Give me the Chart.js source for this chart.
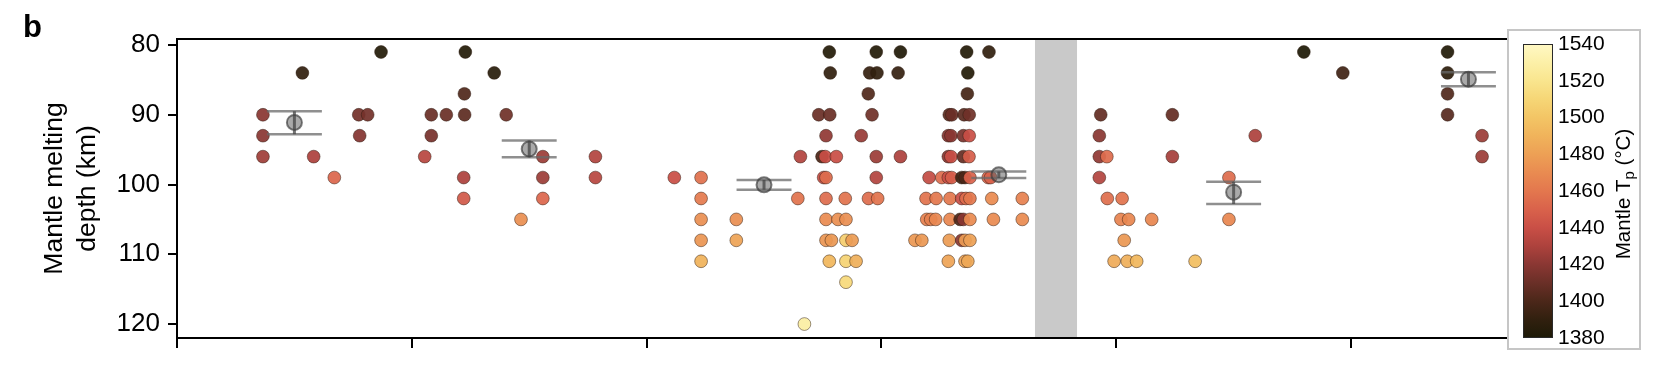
<!DOCTYPE html>
<html><head><meta charset="utf-8">
<script src="https://cdn.jsdelivr.net/npm/chart.js@4.4.0/dist/chart.umd.min.js"></script>
<style>html,body{margin:0;padding:0;background:#fff;}#wrap{width:1662px;height:366px;}</style>
</head><body><div id="wrap"><canvas id="c" width="1662" height="366"></canvas></div>
<script>
// ---------- data ----------
const panelLabel = 'b';
const yTitle = ['Mantle melting', 'depth (km)'];
const xTicks = [0, 1, 2, 3, 4, 5];
const yTicks = [80, 90, 100, 110, 120];
const cbTicks = [1380, 1400, 1420, 1440, 1460, 1480, 1500, 1520, 1540];
const bandX = [3.654, 3.833];

// sample points: x position (jittered group coordinate), melting depth (km), mantle Tp (°C)
const ptX = [
  0.366,0.366,0.366,0.534,0.582,0.670,0.869,0.774,0.812,0.778,1.083,1.147,1.225,1.083,1.055,1.228,1.224,1.221,1.221,
  1.351,1.402,1.558,1.558,1.558,1.465,1.782,1.782,2.118,2.232,2.232,2.232,2.232,2.232,2.382,2.382,
  2.778,2.978,3.081,2.782,2.950,2.981,3.071,2.944,2.733,2.780,2.960,2.764,2.914,2.655,2.747,2.761,2.808,2.978,3.081,
  2.754,2.764,2.978,2.644,2.764,2.846,2.945,2.984,2.764,2.815,2.849,2.764,2.787,2.849,2.875,2.778,2.849,2.892,2.849,2.672,
  3.363,3.458,3.368,3.366,3.289,3.300,3.352,3.374,3.285,3.296,3.349,3.374,3.285,3.296,3.349,3.373,
  3.203,3.257,3.285,3.299,3.342,3.356,3.377,3.455,3.465,3.190,3.233,3.292,3.342,3.360,3.377,3.470,3.600,
  3.193,3.210,3.231,3.292,3.335,3.349,3.377,3.477,3.600,3.143,3.172,3.289,3.342,3.356,3.377,3.285,3.356,3.368,
  3.934,4.239,3.928,4.592,3.928,3.960,4.239,3.928,4.480,3.962,4.025,4.020,4.053,4.151,4.480,4.034,3.991,4.047,4.087,4.336,
  4.799,5.411,4.965,5.411,5.411,5.411,5.558,5.558
];
const ptDepth = [
  90,93,96,84,96,99,81,90,90,93,90,90,90,93,96,81,87,99,102,
  84,90,96,99,102,105,96,99,99,99,102,105,108,111,105,108,
  81,81,81,84,84,84,84,87,90,90,90,93,93,96,96,96,96,96,96,
  99,99,99,102,102,102,102,102,105,105,105,108,108,108,108,111,111,111,114,120,
  81,81,84,87,90,90,90,90,93,93,93,93,96,96,96,96,
  99,99,99,99,99,99,99,99,99,102,102,102,102,102,102,102,102,
  105,105,105,105,105,105,105,105,105,108,108,108,108,108,108,111,111,111,
  90,90,93,93,96,96,96,99,99,102,102,105,105,105,105,108,111,111,111,111,
  81,81,84,84,87,90,93,96
];
const ptTp = [
  1420,1420,1426,1390,1430,1452,1383,1413,1413,1418,1410,1410,1406,1414,1434,1383,1402,1430,1445,
  1386,1412,1425,1425,1452,1472,1432,1434,1440,1457,1462,1472,1475,1490,1472,1482,
  1383,1383,1382,1390,1392,1390,1392,1402,1410,1410,1412,1422,1424,1432,1400,1440,1440,1425,1430,
  1440,1455,1432,1458,1455,1458,1455,1458,1470,1472,1472,1475,1476,1505,1478,1492,1508,1488,1512,1528,
  1383,1390,1383,1398,1405,1410,1405,1412,1418,1420,1415,1440,1420,1440,1408,1448,
  1438,1455,1440,1448,1395,1400,1450,1452,1450,1458,1460,1460,1440,1455,1460,1470,1465,
  1465,1465,1468,1468,1400,1420,1470,1470,1470,1476,1476,1478,1420,1478,1480,1482,1482,1484,
  1408,1408,1420,1430,1422,1455,1428,1432,1455,1456,1458,1466,1468,1468,1468,1476,1486,1488,1492,1496,
  1381,1382,1396,1388,1402,1404,1425,1425
];

// group means with error range (km)
const ebX = [0.5, 1.5, 2.5, 3.5, 4.5, 5.5];
const ebMean = [91.1, 94.9, 100.05, 98.6, 101.1, 84.9];
const ebLo = [89.5, 93.7, 99.35, 98.15, 99.6, 83.9];
const ebHi = [92.8, 96.1, 100.75, 99.05, 102.8, 85.9];

// ---------- styling ----------
const FONT = '"Liberation Sans", Arial, Helvetica, sans-serif';
const cbMin = 1380, cbMax = 1540;
const cmapT = [1380,1390,1400,1410,1420,1430,1440,1450,1460,1470,1480,1490,1500,1510,1520,1530,1540];
const cmapHex = ['#1d1a07','#31200f','#4b2719','#6a2f27','#8a3733','#ad423d','#c94f46','#d9624b','#e3774e',
                 '#e98b51','#eda055','#f0b35b','#f3c565','#f6d676','#f9e58e','#fcf0a8','#fff8c4'];
const capHalf = 0.117;

function hexRgb(h){ return [parseInt(h.slice(1,3),16), parseInt(h.slice(3,5),16), parseInt(h.slice(5,7),16)]; }
function tpColor(t, a){
  t = Math.max(cbMin, Math.min(cbMax, t));
  let i = 0;
  while (i < cmapT.length - 2 && t > cmapT[i+1]) i++;
  const f = (t - cmapT[i]) / (cmapT[i+1] - cmapT[i]);
  const c0 = hexRgb(cmapHex[i]), c1 = hexRgb(cmapHex[i+1]);
  const c = c0.map((v,k) => Math.round(v + (c1[k]-v)*f));
  return `rgba(${c[0]},${c[1]},${c[2]},${a})`;
}

const points = ptX.map((x,i) => ({x, y: ptDepth[i]}));
const capData = [], stemData = [];
ebX.forEach((x,i) => {
  capData.push({x: x-capHalf, y: ebLo[i]}, {x: x+capHalf, y: ebLo[i]}, {x: x, y: null});
  capData.push({x: x-capHalf, y: ebHi[i]}, {x: x+capHalf, y: ebHi[i]}, {x: x, y: null});
  stemData.push({x, y: ebLo[i]}, {x, y: ebHi[i]}, {x, y: null});
});
const meanData = ebX.map((x,i) => ({x, y: ebMean[i]}));

const deco = {
  id: 'deco',
  beforeDatasetsDraw(chart){
    const {ctx, chartArea: a, scales: {x}} = chart;
    const x0 = x.getPixelForValue(bandX[0]), x1 = x.getPixelForValue(bandX[1]);
    ctx.save();
    ctx.fillStyle = '#c9c9c9';
    ctx.fillRect(x0, a.top + 1, x1 - x0, a.bottom - a.top - 2);
    ctx.restore();
  },
  afterDraw(chart){
    const {ctx, chartArea: a} = chart;
    ctx.save();
    ctx.strokeStyle = '#000'; ctx.lineWidth = 2;
    ctx.beginPath(); ctx.moveTo(a.left - 1, a.top); ctx.lineTo(a.right, a.top); ctx.stroke();

    ctx.fillStyle = '#000';
    ctx.font = 'bold 31px ' + FONT;
    ctx.textBaseline = 'alphabetic'; ctx.textAlign = 'left';
    ctx.fillText(panelLabel, 23, 37);

    // colorbar
    const bx = 1507, by = 29, bw = 134, bh = 321;
    ctx.fillStyle = '#fff'; ctx.fillRect(bx, by, bw, bh);
    ctx.strokeStyle = '#c6c6c6'; ctx.lineWidth = 2; ctx.strokeRect(bx + 1, by + 1, bw - 2, bh - 2);
    const gx = 1523, gw = 30, gTop = 44, gBot = 338;
    const grad = ctx.createLinearGradient(0, gBot, 0, gTop);
    cmapT.forEach((t,i) => grad.addColorStop((t - cbMin)/(cbMax - cbMin), cmapHex[i]));
    ctx.fillStyle = grad; ctx.fillRect(gx, gTop, gw, gBot - gTop);
    ctx.strokeStyle = '#2a2a2a'; ctx.lineWidth = 1; ctx.strokeRect(gx + 0.5, gTop + 0.5, gw - 1, gBot - gTop - 1);
    ctx.fillStyle = '#000'; ctx.font = '21px ' + FONT; ctx.textAlign = 'left'; ctx.textBaseline = 'middle';
    cbTicks.forEach(t => {
      const y = gBot - (t - cbMin)/(cbMax - cbMin) * (gBot - gTop);
      ctx.fillText(String(t), 1558, y);
    });
    // colorbar title
    ctx.translate(1624, 194); ctx.rotate(-Math.PI/2);
    const f1 = '20.5px ' + FONT, f2 = '15px ' + FONT;
    ctx.font = f1; const w1 = ctx.measureText('Mantle T').width, w3 = ctx.measureText(' (°C)').width;
    ctx.font = f2; const w2 = ctx.measureText('p').width;
    let sx = -(w1 + w2 + w3)/2;
    ctx.textAlign = 'left'; ctx.textBaseline = 'middle';
    ctx.font = f1; ctx.fillText('Mantle T', sx, 0); sx += w1;
    ctx.font = f2; ctx.fillText('p', sx, 6); sx += w2;
    ctx.font = f1; ctx.fillText(' (°C)', sx, 0);
    ctx.restore();
  }
};

new Chart(document.getElementById('c'), {
  type: 'scatter',
  data: { datasets: [
    { label: 'caps', data: capData, showLine: true, spanGaps: false, borderColor: 'rgba(105,105,105,0.75)',
      borderWidth: 2.5, pointRadius: 0, order: 1 },
    { label: 'stems', data: stemData, showLine: true, spanGaps: false, borderColor: 'rgba(70,70,70,0.75)',
      borderWidth: 3, pointRadius: 0, order: 0 },
    { label: 'means', data: meanData, pointRadius: 7.5, pointBackgroundColor: 'rgba(100,100,100,0.55)',
      pointBorderColor: 'rgba(55,55,55,0.65)', pointBorderWidth: 2, order: 0 },
    { label: 'samples', data: points, pointRadius: 6.4,
      pointBackgroundColor: ptTp.map(t => tpColor(t, 0.93)),
      pointBorderColor: 'rgba(45,25,15,0.6)', pointBorderWidth: 0.8, order: 5 }
  ]},
  options: {
    responsive: false, animation: false, devicePixelRatio: 1,
    layout: { padding: { left: 0, top: 39, right: 146.6, bottom: 0 } },
    plugins: { legend: { display: false }, tooltip: { enabled: false } },
    scales: {
      x: {
        type: 'linear', min: 0, max: 5.7,
        afterBuildTicks: s => { s.ticks = xTicks.map(v => ({value: v})); },
        afterFit: s => { s.height = 28; },
        ticks: { display: false },
        grid: { display: true, drawOnChartArea: false, drawTicks: true, tickLength: 10, color: '#000', lineWidth: 2 },
        border: { display: true, color: '#000', width: 2 }
      },
      y: {
        type: 'linear', reverse: true, min: 79.14, max: 122.0,
        afterBuildTicks: s => { s.ticks = yTicks.map(v => ({value: v})); },
        afterFit: s => { s.width = 177; },
        ticks: { color: '#000', font: { family: FONT, size: 26 }, padding: 8 },
        grid: { display: true, drawOnChartArea: false, drawTicks: true, tickLength: 9, color: '#000', lineWidth: 2 },
        border: { display: true, color: '#000', width: 2 },
        title: { display: true, text: yTitle, color: '#000', font: { family: FONT, size: 26.5, lineHeight: 1.23 },
                 padding: { top: 38.5, bottom: 0 } }
      }
    }
  },
  plugins: [deco]
});
</script></body></html>
